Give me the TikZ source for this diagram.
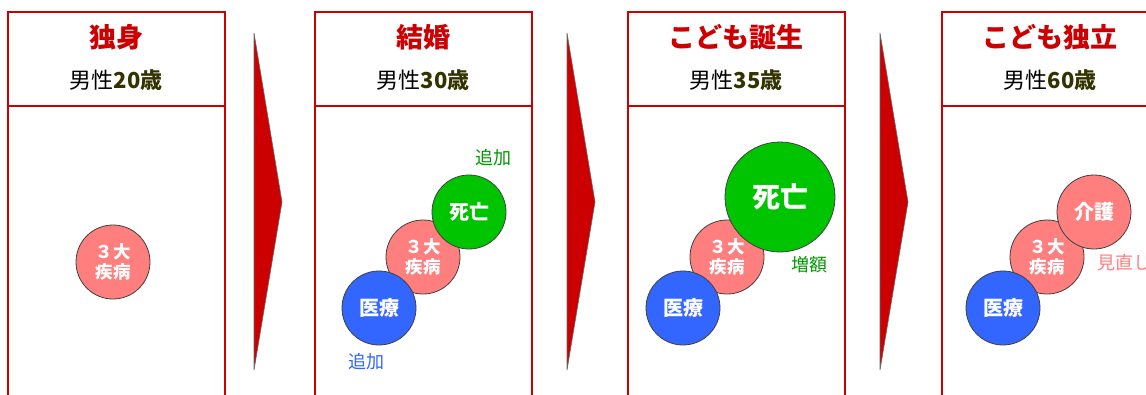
\documentclass[tikz,border=0pt]{standalone}
\usepackage{fontspec}
\setmainfont{Noto Sans CJK JP}
\definecolor{pred}{HTML}{CC0000}
\definecolor{olive}{HTML}{333300}
\definecolor{cpink}{HTML}{FF7F7F}
\definecolor{cgreen}{HTML}{00C400}
\definecolor{cblue}{HTML}{3366FF}
\definecolor{lgreen}{HTML}{009900}
\definecolor{lpink}{HTML}{FF8080}
\tikzset{
  panel/.style={draw=pred,line width=1.2pt},
  ttl/.style={text=pred,font=\bfseries\fontsize{27}{29}\selectfont,inner sep=0pt},
  sub/.style={font=\fontsize{22}{24}\selectfont,inner sep=0pt},
  circ/.style={circle,draw=black!75,line width=0.8pt,minimum size=74pt,inner sep=0pt,text=white,align=center,font=\bfseries\fontsize{20}{21}\selectfont},
  sandai/.style={circ,fill=cpink,font=\bfseries\fontsize{17.5}{20}\selectfont},
  iryo/.style={circ,fill=cblue},
  shibo/.style={circ,fill=cgreen},
  kaigo/.style={circ,fill=cpink},
  lbl/.style={font=\fontsize{18}{20}\selectfont,inner sep=0pt},
  arr/.style={fill=pred,draw=black!60,line width=0.6pt}
}
\begin{document}
\begin{tikzpicture}[x=1pt,y=-1pt]
\useasboundingbox (0,0) rectangle (1146,394);
\clip (0,0) rectangle (1146,394);
\fill[white] (0,0) rectangle (1146,394);
% panels
\foreach \L in {8,315,628,942}{
  \draw[panel] (\L,12) rectangle (\L+217,420);
  \draw[panel] (\L,106) -- (\L+217,106);
}
% arrows
\foreach \A in {254,567,880}{
  \draw[arr] (\A,33) -- (\A+28,202) -- (\A,370) -- cycle;
}
% titles
\node[ttl] (t1) at (116,37) {独身};
\node[sub] (s1) at (116,80) {男性\textbf{\textcolor{olive}{20歳}}};
\node[ttl] (t2) at (423,37) {結婚};
\node[sub] (s2) at (423,80) {男性\textbf{\textcolor{olive}{30歳}}};
\node[ttl] (t3) at (736,37) {こども誕生};
\node[sub] (s3) at (736,80) {男性\textbf{\textcolor{olive}{35歳}}};
\node[ttl] (t4) at (1050,37) {こども独立};
\node[sub] (s4) at (1050,80) {男性\textbf{\textcolor{olive}{60歳}}};
% panel 1
\node[sandai] (c1) at (113,262) {３大\\疾病};
% panel 2
\node[sandai] (c2) at (423,257) {３大\\疾病};
\node[iryo] (m2) at (379,308) {医療};
\node[shibo] (d2) at (469,212) {死亡};
\node[lbl,text=lgreen] (l2a) at (493,158) {追加};
\node[lbl,text=cblue] (l2b) at (366,362) {追加};
% panel 3
\node[sandai] (c3) at (727,257) {３大\\疾病};
\node[iryo] (m3) at (683,308) {医療};
\node[shibo,minimum size=110pt,font=\bfseries\fontsize{28}{30}\selectfont] (d3) at (780,197) {死亡};
\node[lbl,text=lgreen] (l3) at (809,265) {増額};
% panel 4
\node[sandai] (c4) at (1047,257) {３大\\疾病};
\node[iryo] (m4) at (1003,308) {医療};
\node[kaigo] (k4) at (1094,212) {介護};
\node[lbl,text=lpink,anchor=west] (l4) at (1097,263) {見直し};
\end{tikzpicture}
\end{document}
